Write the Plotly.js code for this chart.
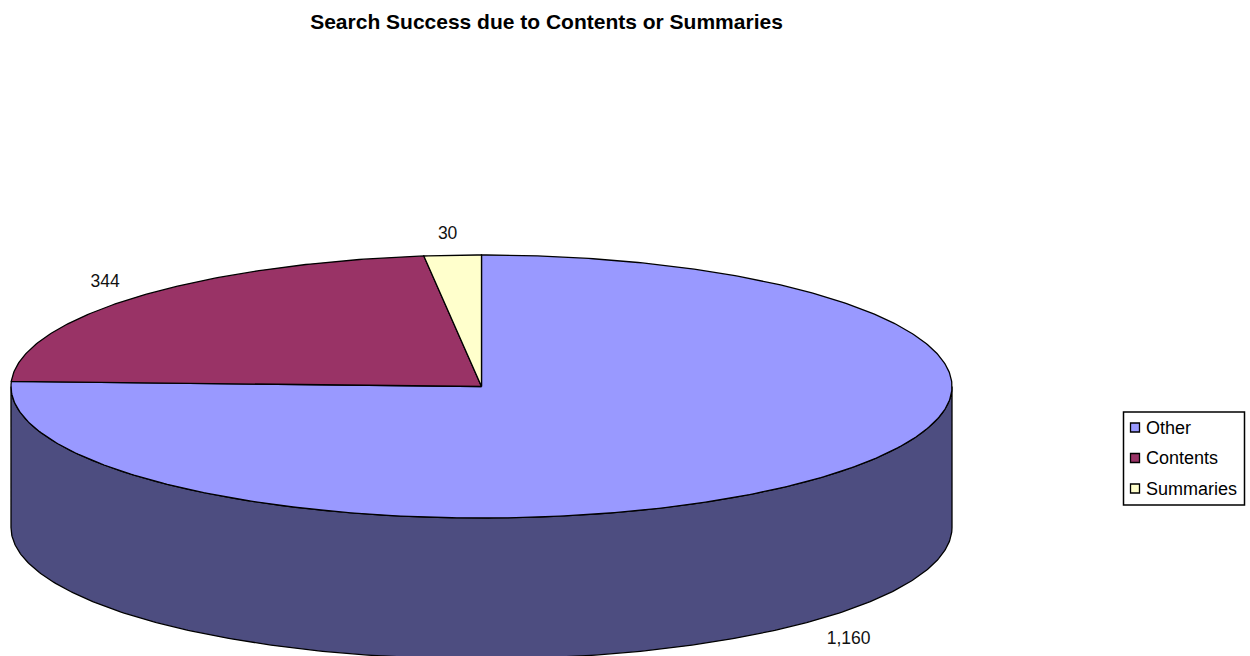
<!DOCTYPE html>
<html>
<head>
<meta charset="utf-8">
<script src="https://cdn.plot.ly/plotly-3.0.1.min.js"></script>
<style>html,body{margin:0;padding:0;background:#fff}#chart{width:1250px;height:656px}</style>
</head>
<body>
<div id="chart"></div>
<script>
// Slices, clockwise from twelve o'clock
const categories = ['Other', 'Contents', 'Summaries'];
const values = [1160, 344, 30];
const topColors = ['#9999FF', '#993366', '#FFFFCC'];
const wallColor = '#4D4D80';
const titleText = 'Search Success due to Contents or Summaries';

// Tilted disc geometry, in axis units
const cx = 481.5, cy = 386.5, rx = 470.5, ry = 131.5, depth = 141;
const labelNudge = [[41, 17 + depth], [-30, -15], [-5, -21]];
const fontFamily = 'Liberation Sans, Arial, sans-serif';

// Legend block, in axis units
const legendBox = {x0: 1123.5, x1: 1244.5, y0: 412, y1: 505};
const keyX = 1135, keyTextX = 1146, keyFirstY = 427.5, keyStep = 30.5, keyTextDrop = 1.5;

const total = values.reduce((a, b) => a + b, 0);
const px = t => cx + rx * Math.sin(t);
const py = t => cy - ry * Math.cos(t);

function arc(from, to) {
  const n = Math.max(2, Math.ceil(Math.abs(to - from) / 0.01));
  const t = Array.from({length: n + 1}, (_, i) => from + (to - from) * i / n);
  return {x: t.map(px), y: t.map(py)};
}

const traces = [];

// Front wall: the lower half of the rim swept down by the disc depth
const rim = arc(Math.PI / 2, 3 * Math.PI / 2);
traces.push({
  type: 'scatter', mode: 'lines', fill: 'toself', fillcolor: wallColor,
  x: rim.x.concat(rim.x.slice().reverse()).concat([rim.x[0]]),
  y: rim.y.concat(rim.y.slice().reverse().map(v => v + depth)).concat([rim.y[0]]),
  line: {color: '#000', width: 1.3}, hoverinfo: 'skip'
});

// Top face, one wedge per category
let running = 0;
const mids = [];
values.forEach((v, i) => {
  const a0 = running / total * 2 * Math.PI;
  running += v;
  const a1 = running / total * 2 * Math.PI;
  mids.push((a0 + a1) / 2);
  const edge = arc(a0, a1);
  traces.push({
    type: 'scatter', mode: 'lines', fill: 'toself', fillcolor: topColors[i],
    x: [cx].concat(edge.x, [cx]), y: [cy].concat(edge.y, [cy]),
    line: {color: '#000', width: 1.3},
    name: categories[i], hoverinfo: 'name'
  });
});

// Value labels beside each wedge
traces.push({
  type: 'scatter', mode: 'text',
  x: mids.map((t, i) => px(t) + labelNudge[i][0]),
  y: mids.map((t, i) => py(t) + labelNudge[i][1]),
  text: values.map(v => v.toLocaleString('en-US')),
  textposition: 'middle center',
  textfont: {family: fontFamily, size: 17.5, color: '#111'},
  hoverinfo: 'skip'
});

// Legend keys and their category names
const keyYs = categories.map((_, i) => keyFirstY + i * keyStep);
traces.push({
  type: 'scatter', mode: 'markers',
  x: categories.map(() => keyX), y: keyYs,
  marker: {symbol: 'square', size: 9, color: topColors, line: {color: '#000', width: 1.3}},
  hoverinfo: 'skip'
});
traces.push({
  type: 'scatter', mode: 'text',
  x: categories.map(() => keyTextX), y: keyYs.map(v => v + keyTextDrop),
  text: categories, textposition: 'middle right',
  textfont: {family: fontFamily, size: 18, color: '#000'},
  hoverinfo: 'skip'
});

const layout = {
  width: 1250, height: 656,
  margin: {l: 0, r: 0, t: 0, b: 0},
  paper_bgcolor: '#fff', plot_bgcolor: '#fff',
  showlegend: false,
  title: {
    text: '<b>' + titleText + '</b>',
    x: 546.5 / 1250, xanchor: 'center', y: 1 - 22 / 656, yanchor: 'middle',
    font: {family: fontFamily, size: 21, color: '#000'}
  },
  xaxis: {range: [0, 1250], visible: false, fixedrange: true},
  yaxis: {range: [656, 0], visible: false, fixedrange: true},
  shapes: [{
    type: 'rect', xref: 'x', yref: 'y', layer: 'below',
    x0: legendBox.x0, x1: legendBox.x1, y0: legendBox.y0, y1: legendBox.y1,
    line: {color: '#000', width: 1.5}, fillcolor: '#fff'
  }]
};

Plotly.newPlot('chart', traces, layout, {displayModeBar: false, responsive: false});
</script>
</body>
</html>
